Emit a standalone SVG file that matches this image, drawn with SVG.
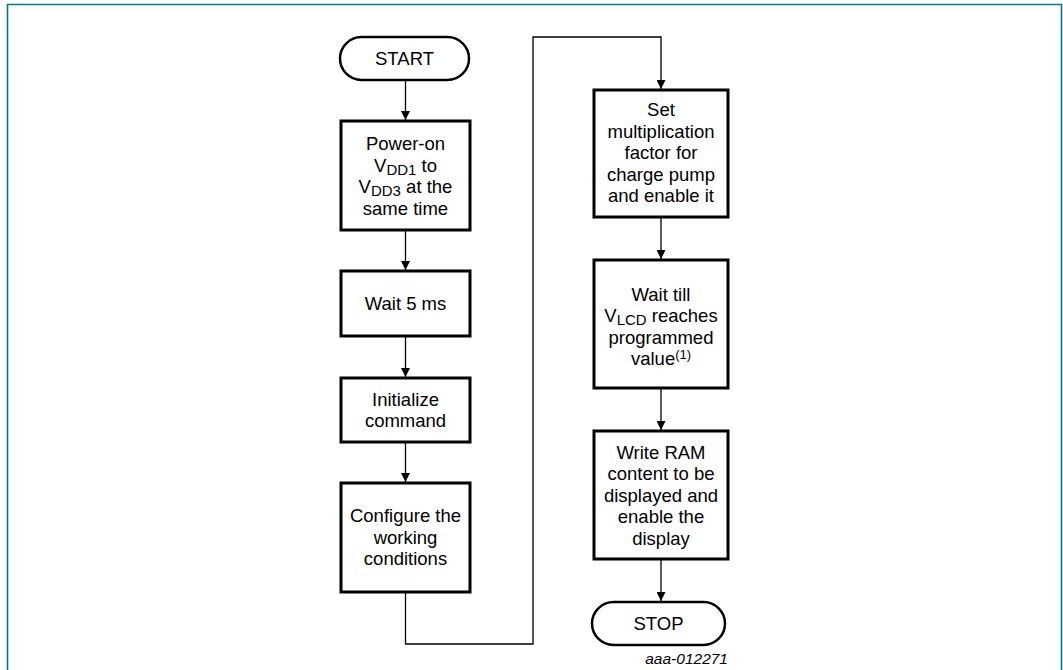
<svg xmlns="http://www.w3.org/2000/svg" width="1063" height="670" viewBox="0 0 1063 670">
<defs>
<style>
.box{fill:#fff;stroke:#000;stroke-width:3}
.pill{fill:#fff;stroke:#000;stroke-width:2.5}
.t{font-family:"Liberation Sans",Arial,sans-serif;font-size:18.5px;fill:#000;text-anchor:middle}
.sub{font-size:15px}
.sup{font-size:13px}
.con{fill:none;stroke:#000;stroke-width:1.3}
.frame{fill:none;stroke:#00778B;stroke-width:1.6}
.foot{font-family:"Liberation Sans",Arial,sans-serif;font-size:15.5px;font-style:italic;fill:#000;text-anchor:end}
</style>
<marker id="ah" viewBox="0 0 10 10" refX="10" refY="5" markerWidth="9" markerHeight="9" markerUnits="userSpaceOnUse" orient="auto">
<path d="M0,0 L10,5 L0,10 Z" fill="#000"/>
</marker>
</defs>
<rect width="1063" height="670" fill="#fff"/>
<path class="frame" d="M7.5,670 V4.5 H1061.5 V670"/>

<g id="connectors">
<line class="con" x1="405.5" y1="80" x2="405.5" y2="120" marker-end="url(#ah)"/>
<line class="con" x1="405.5" y1="230" x2="405.5" y2="270" marker-end="url(#ah)"/>
<line class="con" x1="405.5" y1="336" x2="405.5" y2="377" marker-end="url(#ah)"/>
<line class="con" x1="405.5" y1="442" x2="405.5" y2="482" marker-end="url(#ah)"/>
<path class="con" d="M405.5,592 V644 H533 V37 H661 V89" marker-end="url(#ah)"/>
<line class="con" x1="661" y1="217" x2="661" y2="259" marker-end="url(#ah)"/>
<line class="con" x1="661" y1="388" x2="661" y2="430" marker-end="url(#ah)"/>
<line class="con" x1="661" y1="559" x2="661" y2="601" marker-end="url(#ah)"/>
</g>

<g id="start">
<rect class="pill" x="340" y="37" width="129" height="43" rx="21.5"/>
<text class="t" x="404.5" y="65">START</text>
</g>

<g id="power-on">
<rect class="box" x="341" y="121" width="129" height="109"/>
<text class="t" x="405.5" y="150">Power-on</text>
<text class="t" x="405.5" y="171.5">V<tspan class="sub" dy="3">DD1</tspan><tspan dy="-3"> to</tspan></text>
<text class="t" x="405.5" y="193">V<tspan class="sub" dy="3">DD3</tspan><tspan dy="-3"> at the</tspan></text>
<text class="t" x="405.5" y="214.5">same time</text>
</g>

<g id="wait5">
<rect class="box" x="341" y="271" width="129" height="65"/>
<text class="t" x="405.5" y="309.5">Wait 5 ms</text>
</g>

<g id="initialize">
<rect class="box" x="341" y="378" width="129" height="64"/>
<text class="t" x="405.5" y="405.5">Initialize</text>
<text class="t" x="405.5" y="427">command</text>
</g>

<g id="configure">
<rect class="box" x="341" y="483" width="129" height="109"/>
<text class="t" x="405.5" y="522">Configure the</text>
<text class="t" x="405.5" y="543.5">working</text>
<text class="t" x="405.5" y="565">conditions</text>
</g>

<g id="set-mult">
<rect class="box" x="594" y="90" width="134" height="127"/>
<text class="t" x="661" y="116">Set</text>
<text class="t" x="661" y="137.5">multiplication</text>
<text class="t" x="661" y="159">factor for</text>
<text class="t" x="661" y="180.5">charge pump</text>
<text class="t" x="661" y="202">and enable it</text>
</g>

<g id="wait-till">
<rect class="box" x="594" y="260" width="134" height="128"/>
<text class="t" x="661" y="300.5">Wait till</text>
<text class="t" x="661" y="322">V<tspan class="sub" dy="3">LCD</tspan><tspan dy="-3"> reaches</tspan></text>
<text class="t" x="661" y="343.5">programmed</text>
<text class="t" x="661" y="365">value<tspan class="sup" dy="-6">(1)</tspan></text>
</g>

<g id="write-ram">
<rect class="box" x="594" y="431" width="134" height="128"/>
<text class="t" x="661" y="458.5">Write RAM</text>
<text class="t" x="661" y="480">content to be</text>
<text class="t" x="661" y="501.5">displayed and</text>
<text class="t" x="661" y="523">enable the</text>
<text class="t" x="661" y="544.5">display</text>
</g>

<g id="stop">
<rect class="pill" x="592" y="602" width="133" height="43" rx="21.5"/>
<text class="t" x="658.5" y="630">STOP</text>
</g>

<text class="foot" x="728" y="664">aaa-012271</text>
</svg>
